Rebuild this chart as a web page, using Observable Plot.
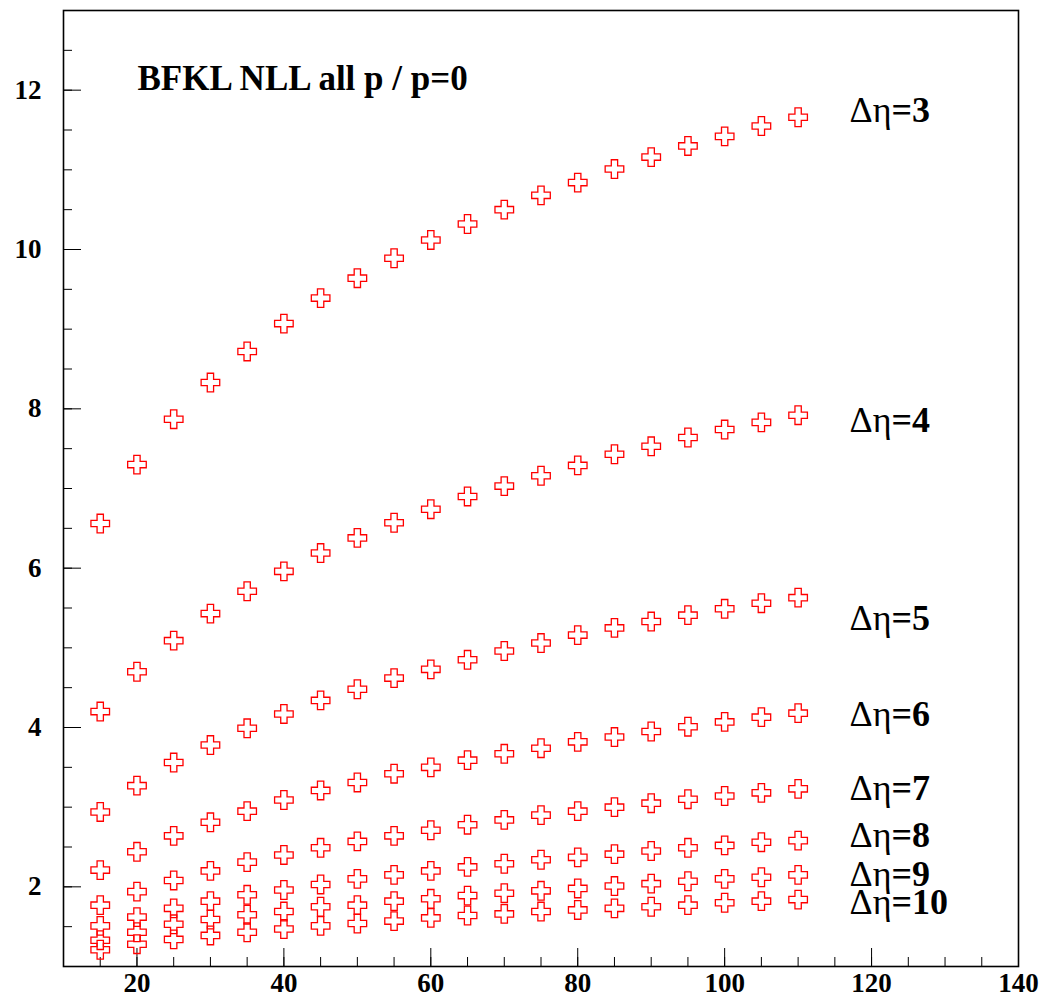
<!DOCTYPE html>
<html>
<head>
<meta charset="utf-8">
<script src="https://cdn.jsdelivr.net/npm/d3@7"></script>
<script src="https://cdn.jsdelivr.net/npm/@observablehq/plot@0.6"></script>
<style>
  html, body { margin: 0; padding: 0; background: #fff; }
  svg { display: block; }
  svg text { font-family: "Liberation Serif", "Times New Roman", serif; }
</style>
</head>
<body>
<div id="chart"></div>
<script>
// ---- data ----
const xs = [15, 20, 25, 30, 35, 40, 45, 50, 55, 60, 65, 70, 75, 80, 85, 90, 95, 100, 105, 110];
const etas = [3, 4, 5, 6, 7, 8, 9, 10];
const s3  = [6.56, 7.30, 7.87, 8.33, 8.72, 9.07, 9.39, 9.64, 9.89, 10.12, 10.32, 10.50, 10.68, 10.84, 11.01, 11.16, 11.30, 11.42, 11.55, 11.66];
const s4  = [4.20, 4.70, 5.09, 5.43, 5.71, 5.96, 6.19, 6.38, 6.57, 6.74, 6.90, 7.03, 7.16, 7.29, 7.43, 7.53, 7.64, 7.74, 7.83, 7.92];
const s5  = [2.94, 3.27, 3.56, 3.78, 3.99, 4.17, 4.34, 4.48, 4.62, 4.73, 4.85, 4.96, 5.06, 5.16, 5.25, 5.33, 5.41, 5.49, 5.56, 5.63];
const s6  = [2.21, 2.44, 2.64, 2.81, 2.95, 3.09, 3.21, 3.31, 3.42, 3.50, 3.59, 3.67, 3.74, 3.82, 3.88, 3.95, 4.01, 4.07, 4.13, 4.18];
const s7  = [1.77, 1.94, 2.08, 2.20, 2.31, 2.40, 2.49, 2.57, 2.64, 2.71, 2.78, 2.84, 2.90, 2.95, 3.00, 3.05, 3.10, 3.14, 3.18, 3.23];
const s8  = [1.51, 1.62, 1.73, 1.82, 1.90, 1.96, 2.03, 2.10, 2.15, 2.20, 2.25, 2.29, 2.34, 2.37, 2.41, 2.45, 2.49, 2.52, 2.56, 2.58];
const s9  = [1.33, 1.43, 1.53, 1.59, 1.65, 1.69, 1.75, 1.77, 1.82, 1.85, 1.89, 1.92, 1.95, 1.98, 2.01, 2.04, 2.07, 2.10, 2.12, 2.15];
const s10 = [1.21, 1.28, 1.34, 1.39, 1.43, 1.47, 1.51, 1.54, 1.57, 1.61, 1.64, 1.66, 1.69, 1.71, 1.73, 1.75, 1.77, 1.80, 1.82, 1.84];
const series = [s3, s4, s5, s6, s7, s8, s9, s10];
const labelY = [11.75, 7.85, 5.37, 4.16, 3.24, 2.65, 2.16, 1.81];
const title = "BFKL NLL all p / p=0";
const xTicks = [20, 40, 60, 80, 100, 120, 140];
const yTicks = [2, 4, 6, 8, 10, 12];

// ---- build tables ----
const points = etas.flatMap((eta, k) => xs.map((x, i) => ({eta, x, y: series[k][i]})));
const labels = etas.map((eta, k) => ({eta, y: labelY[k]}));
const xMinor = d3.range(15, 140, 5);
const yMinor = d3.range(1.5, 13, 0.5);

// open-cross marker
const openCross = {
  draw(ctx, size) {
    const r = Math.sqrt(size / Math.PI);
    const a = r * 0.34;
    ctx.moveTo(-a, -r); ctx.lineTo(a, -r); ctx.lineTo(a, -a); ctx.lineTo(r, -a);
    ctx.lineTo(r, a); ctx.lineTo(a, a); ctx.lineTo(a, r); ctx.lineTo(-a, r);
    ctx.lineTo(-a, a); ctx.lineTo(-r, a); ctx.lineTo(-r, -a); ctx.lineTo(-a, -a);
    ctx.closePath();
  }
};

const font = "Liberation Serif";

const chart = Plot.plot({
  width: 1041,
  height: 1000,
  marginLeft: 63,
  marginRight: 23,
  marginTop: 10,
  marginBottom: 34,
  style: {fontFamily: font, background: "#fff", color: "#000"},
  x: {domain: [10, 140]},
  y: {domain: [1, 13]},
  marks: [
    // minor ticks (inside)
    Plot.axisX({ticks: xMinor, tickSize: 9, insetBottom: 9, tickFormat: () => "", label: null}),
    Plot.axisY({ticks: yMinor, tickSize: 9, insetLeft: 9, tickFormat: () => "", label: null}),
    // major ticks (inside)
    Plot.axisX({ticks: xTicks, tickSize: 18, insetBottom: 18, tickFormat: () => "", label: null}),
    Plot.axisY({ticks: yTicks, tickSize: 18, insetLeft: 18, tickFormat: () => "", label: null}),
    // labels
    Plot.axisX({ticks: xTicks, tickSize: 0, tickPadding: 6, fontSize: 27, fontWeight: "bold", fontFamily: font, tickFormat: d => String(d), label: null}),
    Plot.axisY({ticks: yTicks, tickSize: 0, tickPadding: 22, fontSize: 27, fontWeight: "bold", fontFamily: font, tickFormat: d => String(d), label: null}),
    Plot.frame({stroke: "#000", strokeWidth: 1.6}),
    Plot.dot(points, {x: "x", y: "y", symbol: openCross, r: 9.3, stroke: "#ff0000", strokeWidth: 1.3, fill: "none"}),
    Plot.text([title], {frameAnchor: "top-left", dx: 74, dy: 68, lineAnchor: "middle", text: d => d, textAnchor: "start", fontSize: 35, fontWeight: "bold", fontFamily: font, fill: "#000"}),
    Plot.text(labels, {frameAnchor: "right", y: "y", dx: -169, lineAnchor: "middle", text: d => "\u0394\u03b7=" + d.eta, textAnchor: "start", fontSize: 36, fontFamily: font, fill: "#000"})
  ]
});
// split each label into a regular "Δη" and a bold "=N"
d3.select(chart).selectAll("text")
  .filter(function () { return this.textContent.startsWith("\u0394\u03b7="); })
  .each(function () {
    const t = this.textContent;
    const el = d3.select(this);
    el.text(null);
    el.append("tspan").text(t.slice(0, 2));
    el.append("tspan").attr("font-weight", "bold").style("font-weight", "bold").text(t.slice(2));
  });
document.getElementById("chart").append(chart);
</script>
</body>
</html>
